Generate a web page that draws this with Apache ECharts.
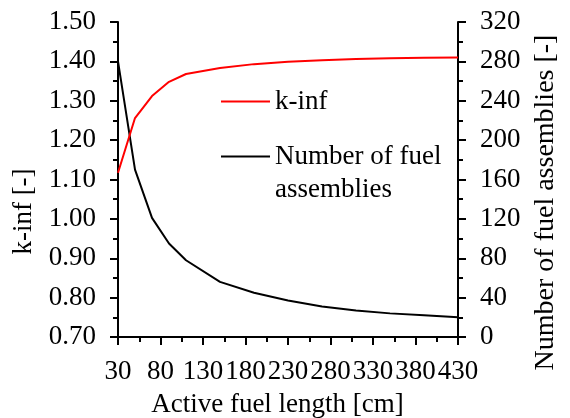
<!DOCTYPE html>
<html>
<head>
<meta charset="utf-8">
<script src="https://cdn.jsdelivr.net/npm/echarts@6/dist/echarts.min.js"></script>
<style>
  html, body { margin: 0; padding: 0; background: #fff; }
  #chart { width: 570px; height: 418px; }
</style>
</head>
<body>
<div id="chart"></div>
<script>
// 活性长度 [cm]
var fuelLength = [30, 50, 70, 90, 110, 150, 190, 230, 270, 310, 350, 390, 430];
// k-inf
var kInf = [1.117, 1.256, 1.312, 1.348, 1.368, 1.383, 1.393, 1.399, 1.403, 1.406, 1.408, 1.409, 1.410];
// 燃料组件数
var assemblies = [280, 170, 121, 95, 78, 56, 45, 37, 31, 27, 24, 22, 20];

var font = 'Liberation Serif';
var NUM_NAME = 'Number of fuel\nassemblies';

function pairs(xs, ys) {
    var out = [];
    for (var i = 0; i < xs.length; i++) {
        out.push([xs[i], ys[i]]);
    }
    return out;
}

var axisCommon = {
    axisLine: { show: true, lineStyle: { color: '#000', width: 2 } },
    axisTick: { show: true, inside: false, length: 8, lineStyle: { color: '#000', width: 2 } },
    minorTick: { show: true, splitNumber: 2, length: 5, lineStyle: { color: '#000', width: 2 } },
    splitLine: { show: false }
};

var myChart = echarts.init(document.getElementById('chart'));
var option = {
    animation: false,
    backgroundColor: '#fff',
    grid: { left: 118, right: 112, top: 22, bottom: 81, containLabel: false, outerBoundsMode: 'none' },
    legend: {
        orient: 'vertical',
        left: 216,
        top: 80,
        itemWidth: 49,
        itemHeight: 2,
        itemGap: -11,
        icon: 'rect',
        textStyle: { color: '#000', fontFamily: font, fontSize: 27, lineHeight: 33 },
        // 让图标对齐第一行文字
        formatter: function (name) {
            return name === NUM_NAME ? '\n' + name : name;
        },
        data: ['k-inf', NUM_NAME]
    },
    xAxis: Object.assign({}, axisCommon, {
        type: 'value',
        min: 30,
        max: 430,
        interval: 50,
        name: 'Active fuel length [cm]',
        nameLocation: 'middle',
        nameGap: 54,
        nameTextStyle: { color: '#000', fontFamily: font, fontSize: 27, padding: [0, 21, 0, 0] },
        axisLabel: { color: '#000', fontFamily: font, fontSize: 27, margin: 21, showMinLabel: true, showMaxLabel: true }
    }),
    yAxis: [
        Object.assign({}, axisCommon, {
            type: 'value',
            position: 'left',
            min: 0.7,
            max: 1.5,
            interval: 0.1,
            name: 'k-inf [-]',
            nameLocation: 'middle',
            nameRotate: 90,
            nameGap: 80,
            nameTextStyle: { color: '#000', fontFamily: font, fontSize: 27, padding: [0, 64, 0, 0] },
            axisLabel: {
                color: '#000', fontFamily: font, fontSize: 27, margin: 22,
                formatter: function (v) { return v.toFixed(2); }
            }
        }),
        Object.assign({}, axisCommon, {
            type: 'value',
            position: 'right',
            min: 0,
            max: 320,
            interval: 40,
            name: 'Number of fuel assemblies [-]',
            nameLocation: 'middle',
            nameRotate: 90,
            nameGap: 73,
            nameTextStyle: { color: '#000', fontFamily: font, fontSize: 28, padding: [0, 46, 0, 0] },
            axisLabel: { color: '#000', fontFamily: font, fontSize: 27, margin: 22 }
        })
    ],
    series: [
        {
            name: NUM_NAME,
            type: 'line',
            yAxisIndex: 1,
            data: pairs(fuelLength, assemblies),
            showSymbol: false,
            symbol: 'none',
            lineStyle: { color: '#000', width: 2 },
            itemStyle: { color: '#000' }
        },
        {
            name: 'k-inf',
            type: 'line',
            yAxisIndex: 0,
            data: pairs(fuelLength, kInf),
            showSymbol: false,
            symbol: 'none',
            lineStyle: { color: '#ff0000', width: 2 },
            itemStyle: { color: '#ff0000' }
        }
    ]
};
myChart.setOption(option);
</script>
</body>
</html>
